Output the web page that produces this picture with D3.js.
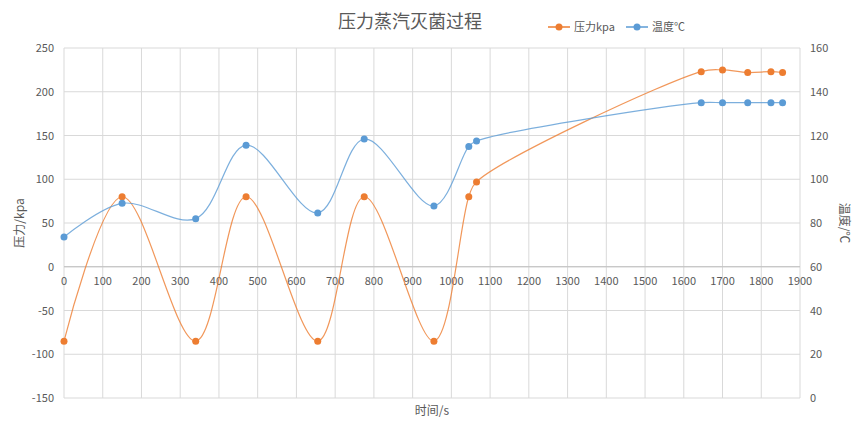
<!DOCTYPE html>
<html><head><meta charset="utf-8">
<script src="https://cdn.jsdelivr.net/npm/d3@7"></script>
<style>body{margin:0;background:#fff}text{font-family:"Noto Sans CJK SC","Noto Sans",sans-serif}</style>
</head><body><svg id="c" width="865" height="445"></svg>
<script>
// data
const time = [0, 150, 340, 470, 655, 775, 955, 1045, 1065, 1645, 1700, 1765, 1825, 1855];
const pressure = [-85, 80, -85, 80, -85, 80, -85, 80, 97, 223, 225, 222, 223, 222];
const temperature = [73.6, 89, 82, 115.6, 84.6, 118.4, 87.8, 115, 117.5, 135, 135, 135, 135, 135];
const xTicks = d3.range(0, 1901, 100);
const leftTicks = d3.range(-150, 251, 50);
const rightTicks = d3.range(0, 161, 20);

const svg = d3.select('#c');
const m = { left: 64, right: 800, top: 48, bottom: 398 };
const x = d3.scaleLinear().domain([0, 1900]).range([m.left, m.right]);
const yL = d3.scaleLinear().domain([-150, 250]).range([m.bottom, m.top]);
const yR = d3.scaleLinear().domain([0, 160]).range([m.bottom, m.top]);
const orange = '#ED7D31', blue = '#5B9BD5';

// grid
svg.append('g').selectAll('line').data(leftTicks).join('line')
  .attr('x1', m.left).attr('x2', m.right).attr('y1', d => yL(d)).attr('y2', d => yL(d))
  .attr('stroke', '#d9d9d9');
svg.append('g').selectAll('line').data(xTicks).join('line')
  .attr('x1', d => x(d)).attr('x2', d => x(d)).attr('y1', m.top).attr('y2', m.bottom)
  .attr('stroke', '#d9d9d9');
svg.append('line').attr('x1', m.left).attr('x2', m.right).attr('y1', yL(0)).attr('y2', yL(0)).attr('stroke', '#bfbfbf');

// axes labels
const lab = (g) => g.attr('font-size', 11).attr('fill', '#595959');
svg.append('g').call(lab).selectAll('text').data(xTicks).join('text')
  .attr('x', d => x(d)).attr('y', yL(0) + 18).attr('text-anchor', 'middle').text(d => d);
svg.append('g').call(lab).selectAll('text').data(leftTicks).join('text')
  .attr('x', m.left - 10).attr('y', d => yL(d) + 4).attr('text-anchor', 'end').text(d => d);
svg.append('g').call(lab).selectAll('text').data(rightTicks).join('text')
  .attr('x', m.right + 10).attr('y', d => yR(d) + 4).attr('text-anchor', 'start').text(d => d);

svg.append('text').attr('x', 410).attr('y', 28).attr('text-anchor', 'middle')
  .attr('font-size', 18).attr('fill', '#595959').text('压力蒸汽灭菌过程');
svg.append('text').attr('x', 432).attr('y', 415).attr('text-anchor', 'middle')
  .attr('font-size', 12).attr('fill', '#595959').text('时间/s');
svg.append('text').attr('transform', `translate(24,${yL(50)}) rotate(-90)`).attr('text-anchor', 'middle')
  .attr('font-size', 12).attr('fill', '#595959').text('压力/kpa');
svg.append('text').attr('transform', `translate(840,${yR(80)}) rotate(90)`).attr('text-anchor', 'middle')
  .attr('font-size', 12).attr('fill', '#595959').text('温度/℃');

// series
function series(vals, y, color) {
  const pts = time.map((t, i) => [x(t), y(vals[i])]);
  svg.append('path').attr('d', d3.line().curve(d3.curveCatmullRom.alpha(0.5))(pts))
    .attr('fill', 'none').attr('stroke', color).attr('stroke-width', 1.2).attr('opacity', 0.8);
  svg.append('g').selectAll('circle').data(pts).join('circle')
    .attr('cx', d => d[0]).attr('cy', d => d[1]).attr('r', 3.5).attr('fill', color);
}
series(pressure, yL, orange);
series(temperature, yR, blue);

// legend
const leg = [['压力kpa', orange, 548], ['温度℃', blue, 626]];
leg.forEach(([t, c, lx]) => {
  svg.append('line').attr('x1', lx).attr('x2', lx + 22).attr('y1', 27).attr('y2', 27).attr('stroke', c).attr('stroke-width', 1.5);
  svg.append('circle').attr('cx', lx + 11).attr('cy', 27).attr('r', 3.5).attr('fill', c);
  svg.append('text').attr('x', lx + 26).attr('y', 31).attr('font-size', 11).attr('fill', '#595959').text(t);
});
</script></body></html>
